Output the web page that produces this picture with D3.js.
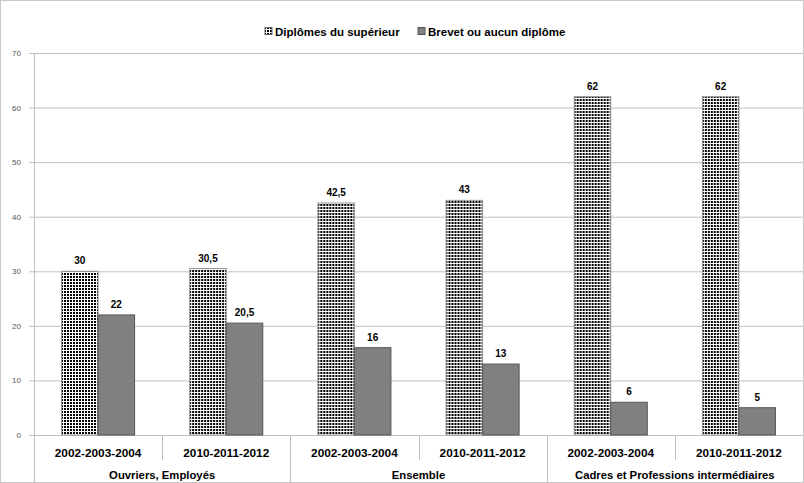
<!DOCTYPE html>
<html><head><meta charset="utf-8">
<script src="https://cdn.jsdelivr.net/npm/d3@7"></script>
<style>body{margin:0;background:#fff}svg{display:block}</style>
</head><body>
<svg id="c" width="804" height="483"></svg>
<script>
const groups = ["Ouvriers, Employés", "Ensemble", "Cadres et Professions intermédiaires"];
const periods = ["2002-2003-2004", "2010-2011-2012"];
const seriesNames = ["Diplômes du supérieur", "Brevet ou aucun diplôme"];
const superieur = [30, 30.5, 42.5, 43, 62, 62];
const brevet = [22, 20.5, 16, 13, 6, 5];
const yTicks = [0, 10, 20, 30, 40, 50, 60, 70];

const fmt = v => String(v).replace(".", ",");
const svg = d3.select("#c");
const W = 804, H = 483;
const m = {l: 34, r: 1, t: 53, b: 48};
const font = "'Liberation Sans', Arial, sans-serif";

const defs = svg.append("defs");
const pat = defs.append("pattern").attr("id", "dots").attr("patternUnits", "userSpaceOnUse")
  .attr("width", 3).attr("height", 3);
pat.append("rect").attr("width", 3).attr("height", 3).attr("fill", "#fff");
pat.append("rect").attr("width", 2).attr("height", 2).attr("fill", "#000");

svg.append("rect").attr("x", 0.5).attr("y", 0.5).attr("width", W - 1).attr("height", H - 1)
  .attr("fill", "#fff").attr("stroke", "#c8c8c8");

const cats = [];
groups.forEach(g => periods.forEach(p => cats.push(g + "|" + p)));
const rows = cats.map((c, i) => ({key: c, group: c.split("|")[0], period: c.split("|")[1], vals: [superieur[i], brevet[i]]}));

const x = d3.scaleBand().domain(cats).range([m.l, W - m.r]).paddingInner(0).paddingOuter(0);
const xg = d3.scaleBand().domain(groups).range([m.l, W - m.r]);
const y = d3.scaleLinear().domain([0, 70]).range([435, m.t]);
const inner = d3.scaleBand().domain([0, 1]).range([0, x.bandwidth()]).paddingOuter(0.755).paddingInner(0);

// gridlines
svg.append("g").selectAll("line").data(yTicks).join("line")
  .attr("x1", m.l - 5).attr("x2", W - m.r).attr("y1", d => y(d) + 0.5).attr("y2", d => y(d) + 0.5)
  .attr("stroke", "#c0c0c0").attr("stroke-width", 1);
svg.append("g").selectAll("text").data(yTicks).join("text")
  .attr("x", m.l - 13).attr("y", d => y(d) + 3).attr("text-anchor", "end")
  .attr("font-family", font).attr("font-size", 8).attr("fill", "#555").text(d => d);
// y axis line
svg.append("line").attr("x1", m.l + 0.5).attr("x2", m.l + 0.5).attr("y1", m.t).attr("y2", H)
  .attr("stroke", "#c0c0c0");

// category separators
svg.append("g").selectAll("line").data(cats.slice(1)).join("line")
  .attr("x1", d => Math.round(x(d)) + 0.5).attr("x2", d => Math.round(x(d)) + 0.5)
  .attr("y1", 435).attr("y2", (d, i) => (i % 2 === 0 ? 460 : H))
  .attr("stroke", "#c0c0c0");

// bars
const bg = svg.append("g").selectAll("g").data(rows).join("g").attr("transform", d => `translate(${x(d.key)},0)`);
bg.selectAll("rect").data(d => d.vals.map((v, i) => ({v, i}))).join("rect")
  .attr("x", d => inner(d.i)).attr("width", inner.bandwidth())
  .attr("y", d => y(d.v)).attr("height", d => y(0) - y(d.v))
  .attr("fill", d => d.i === 0 ? "url(#dots)" : "#808080")
  .attr("stroke", d => d.i === 0 ? "#999" : "#555").attr("stroke-width", 1);
bg.selectAll("text").data(d => d.vals.map((v, i) => ({v, i}))).join("text")
  .attr("x", d => inner(d.i) + inner.bandwidth() / 2).attr("y", d => y(d.v) - 7)
  .attr("text-anchor", "middle").attr("font-family", font).attr("font-weight", "bold")
  .attr("font-size", 10).attr("fill", "#000").text(d => fmt(d.v));

// x labels
svg.append("g").selectAll("text").data(rows).join("text")
  .attr("x", d => x(d.key) + x.bandwidth() / 2).attr("y", 457).attr("text-anchor", "middle")
  .attr("font-family", font).attr("font-weight", "bold").attr("font-size", 11.8).attr("fill", "#000")
  .text(d => d.period);
svg.append("g").selectAll("text").data(groups).join("text")
  .attr("x", d => xg(d) + xg.bandwidth() / 2).attr("y", 479).attr("text-anchor", "middle")
  .attr("font-family", font).attr("font-weight", "bold").attr("font-size", 11.3).attr("fill", "#000")
  .text(d => d);

// legend
const lg = svg.append("g");
const lx = [265, 418];
seriesNames.forEach((s, i) => {
  lg.append("rect").attr("x", lx[i]).attr("y", 27.5).attr("width", 7).attr("height", 7)
    .attr("fill", i === 0 ? "url(#dots)" : "#808080").attr("stroke", i === 0 ? "#666" : "#555");
  lg.append("text").attr("x", lx[i] + 10).attr("y", 35.5).attr("font-family", font)
    .attr("font-weight", "bold").attr("font-size", 11.5).attr("fill", "#000").text(s);
});
</script>
</body></html>
